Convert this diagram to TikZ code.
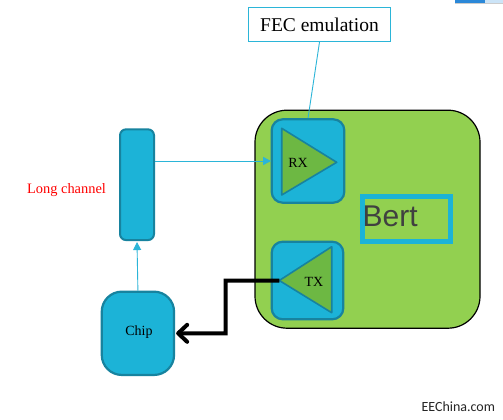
\documentclass[tikz,border=0pt]{standalone}
\usepackage{fontspec}
\setmainfont{Liberation Serif}
\newfontfamily\arialf{Liberation Sans}
\newfontfamily\wmfont{Carlito}
\usetikzlibrary{arrows.meta}
\definecolor{cyanfill}{HTML}{1CB3D7}
\definecolor{tealline}{HTML}{17839F}
\definecolor{biggreen}{HTML}{92D050}
\definecolor{trigreen}{HTML}{6DB843}
\definecolor{bertgray}{HTML}{404040}
\definecolor{fecline}{HTML}{2BB5D8}
\definecolor{barblue}{HTML}{2B88D8}
\definecolor{barlight}{HTML}{CCE4F7}
\tikzset{
  bluebox/.style={draw=tealline, fill=cyanfill, line width=2.2pt, inner sep=0pt},
  trishape/.style={draw=tealline, fill=trigreen, line width=1.6pt, line join=round},
  cyanarrow/.style={draw=fecline, line width=0.9pt, -{Triangle[length=8pt,width=8pt]}},
  thickarrow/.style={draw=black, line width=4pt, -{Straight Barb[length=9pt,width=17pt,round]}},
  lbl/.style={inner sep=0pt, font=\fontsize{14}{16}\selectfont}
}
\begin{document}
\begin{tikzpicture}[x=1pt,y=-1pt]
\useasboundingbox[fill=white] (0,0) rectangle (503,420);
% top-right cropped bar
\fill[gray!40] (455,1) rectangle (503,4.5);
\fill[barblue] (455,0) rectangle (485,3.5);
\fill[barlight] (485,0) rectangle (503,3.5);
% big green Bert board
\node[draw=black, fill=biggreen, line width=1.2pt, rounded corners=32pt,
      minimum width=225pt, minimum height=218pt, inner sep=0pt] (board) at (367.5,219.2) {};
% FEC emulation label box
\node[draw=fecline, fill=white, line width=1.2pt, minimum width=142pt, minimum height=34pt,
      inner sep=0pt, font=\fontsize{19.5}{22}\selectfont] (fec) at (319.5,24.5) {FEC emulation};
% RX block
\node[bluebox, rounded corners=11pt, minimum width=72.6pt, minimum height=83.4pt] (rx) at (308,161) {};
\filldraw[trishape] (281.7,128.3) coordinate (rxa) -- (281.7,195) coordinate (rxb) -- (336.7,162.3) coordinate (rxc) -- cycle;
\node[lbl] (rxtext) at (298,162.5) {RX};
% TX block
\node[bluebox, rounded corners=11pt, minimum width=71.6pt, minimum height=77.6pt] (tx) at (307.5,280.5) {};
\filldraw[trishape] (279.3,280.5) coordinate (txtip) -- (331.7,246.7) coordinate (txa) -- (331.7,312.7) coordinate (txb) -- cycle;
\node[lbl] (txtext) at (314,281.5) {TX};
% Bert box
\node[draw=cyanfill, line width=5pt, minimum width=87.5pt, minimum height=45pt, inner sep=0pt] (bertbox) at (406.3,219) {};
\node[anchor=base west, inner sep=0pt, text=bertgray, font=\arialf\fontsize{30}{32}\selectfont] (berttext) at (362.5,226.7) {Bert};
% Long channel
\node[bluebox, line width=2pt, rounded corners=6pt, minimum width=34pt, minimum height=110.7pt] (lc) at (137,184.7) {};
\node[lbl, text=red, font=\fontsize{14.4}{16}\selectfont] (lctext) at (66.5,190) {Long channel};
% Chip
\node[bluebox, rounded corners=20pt, minimum width=72.3pt, minimum height=83.3pt] (chip) at (137.9,333.3) {};
\node[lbl] (chiptext) at (139,332.3) {Chip};
% connectors
\draw[fecline, line width=0.9pt] (fec.south) -- (rx.north);
\draw[cyanarrow] (lc.east |- rx.west) -- ([xshift=0.5pt]rx.west);
\draw[cyanarrow] (chip.north) -- ([yshift=-1pt]lc.south);
\coordinate (bend) at (225.7,280.7);
\draw[thickarrow] (txtip) -- (bend) |- ([xshift=1pt]chip.east);
% watermark
\node[inner sep=0pt, text=black!85, font=\wmfont\fontsize{14}{16}\selectfont] (wm) at (458.3,407) {EEChina.com};
\end{tikzpicture}
\end{document}
